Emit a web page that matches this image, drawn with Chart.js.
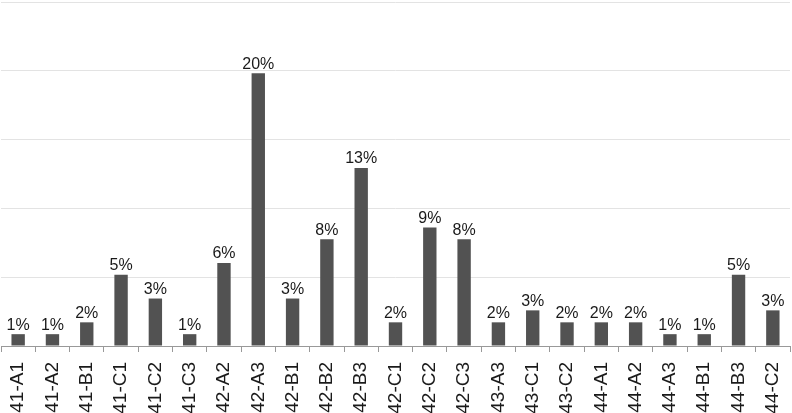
<!DOCTYPE html>
<html>
<head>
<meta charset="utf-8">
<script src="https://cdn.jsdelivr.net/npm/chart.js@4/dist/chart.umd.min.js"></script>
<style>
  html, body { margin: 0; padding: 0; background: #ffffff; }
  #wrap { width: 792px; height: 413px; }
</style>
</head>
<body>
<div id="wrap"><canvas id="c" width="792" height="413"></canvas></div>
<script>
const categories = ["41-A1","41-A2","41-B1","41-C1","41-C2","41-C3","42-A2","42-A3","42-B1","42-B2","42-B3","42-C1","42-C2","42-C3","43-A3","43-C1","43-C2","44-A1","44-A2","44-A3","44-B1","44-B3","44-C2"];
const shares = [0.86,0.86,1.72,5.17,3.45,0.86,6.03,19.83,3.45,7.76,12.93,1.72,8.62,7.76,1.72,2.59,1.72,1.72,1.72,0.86,0.86,5.17,2.59];
const yTicks = [0,5,10,15,20,25];

const barLabels = {
  id: 'barLabels',
  afterDatasetsDraw(chart) {
    const ctx = chart.ctx;
    const meta = chart.getDatasetMeta(0);
    ctx.save();
    ctx.font = '16px "Liberation Sans", Arial, sans-serif';
    ctx.fillStyle = '#1a1a1a';
    ctx.textAlign = 'center';
    ctx.textBaseline = 'bottom';
    meta.data.forEach((bar, i) => {
      const v = chart.data.datasets[0].data[i];
      ctx.fillText(Math.round(v) + '%', bar.x, bar.y - 1);
    });
    ctx.restore();
  }
};

new Chart(document.getElementById('c'), {
  type: 'bar',
  data: {
    labels: categories,
    datasets: [{
      data: shares,
      backgroundColor: '#525252',
      borderWidth: 0,
      categoryPercentage: 1,
      barPercentage: 0.39
    }]
  },
  options: {
    responsive: false,
    animation: false,
    layout: { padding: { left: 1, right: 2, top: 2, bottom: 0 } },
    plugins: { legend: { display: false }, tooltip: { enabled: false } },
    scales: {
      x: {
        grid: { offset: true, drawOnChartArea: false, tickLength: 6, color: '#999999', lineWidth: 1 },
        border: { display: true, color: '#999999', width: 1 },
        ticks: {
          minRotation: 90, maxRotation: 90, autoSkip: false, padding: 10,
          color: '#1a1a1a',
          font: { family: '"Liberation Sans", Arial, sans-serif', size: 19 }
        },
        afterFit(scale) { scale.height = 67; scale.paddingLeft = 0; scale.paddingRight = 0; }
      },
      y: {
        min: 0, max: 25,
        afterBuildTicks(scale) { scale.ticks = yTicks.map(v => ({ value: v })); },
        ticks: { display: false },
        grid: { color: '#e3e3e3', drawTicks: false, lineWidth: 1 },
        border: { display: false },
        afterFit(scale) { scale.width = 0; }
      }
    }
  },
  plugins: [barLabels]
});
</script>
</body>
</html>
